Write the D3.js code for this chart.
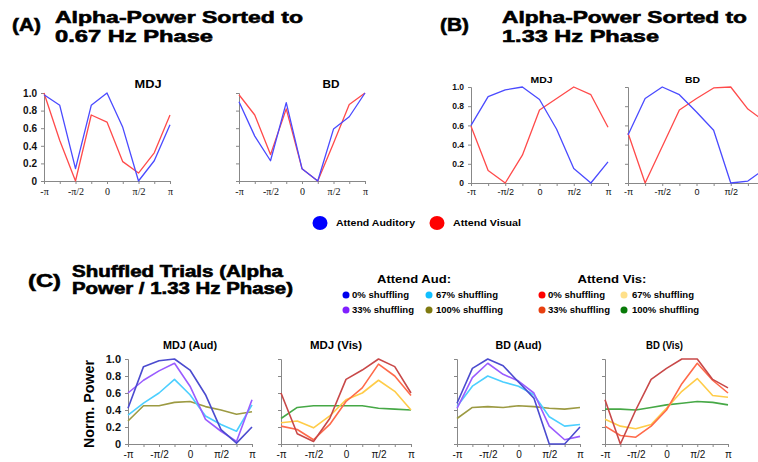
<!DOCTYPE html>
<html>
<head>
<meta charset="utf-8">
<script src="https://cdn.jsdelivr.net/npm/d3@7"></script>
<style>
  body { margin: 0; background: #fff; }
  svg { display: block; font-family: "Liberation Sans", Arial, sans-serif; }
  .axis path, .axis line { stroke: #888; }
  .axis text { fill: #111; }
</style>
</head>
<body>
<svg id="chart" width="758" height="462"></svg>
<script>
// phase bins, in multiples of pi
const phaseSteps = [-1, -0.75, -0.5, -0.25, 0, 0.25, 0.5, 0.75, 1];
const phaseTickLabels = ["-π", "", "-π/2", "", "0", "", "π/2", "", "π"];
const powerTicks = [0, 0.2, 0.4, 0.6, 0.8, 1.0];
const powerTickLabels = ["0", "0.2", "0.4", "0.6", "0.8", "1.0"];

// (A) sorted to 0.67 Hz phase
const aMdjAud = [0.98, 0.86, 0.14, 0.86, 1.0, 0.61, 0.0, 0.23, 0.64];
const aMdjVis = [1.0, 0.46, 0.0, 0.75, 0.67, 0.22, 0.09, 0.32, 0.75];
const aBdAud = [0.90, 0.51, 0.23, 0.89, 0.14, 0.0, 0.59, 0.73, 1.0];
const aBdVis = [0.98, 0.75, 0.30, 0.82, 0.14, 0.0, 0.43, 0.87, 1.0];

// (B) sorted to 1.33 Hz phase
const bMdjAud = [0.60, 0.90, 0.97, 1.0, 0.87, 0.56, 0.15, 0.0, 0.22];
const bMdjVis = [0.59, 0.13, 0.0, 0.29, 0.76, 0.88, 1.0, 0.92, 0.58];
const bBdAud = [0.50, 0.88, 1.0, 0.92, 0.74, 0.55, 0.0, 0.02, 0.15];
const bBdVis = [0.52, 0.0, 0.38, 0.76, 0.88, 0.99, 1.0, 0.77, 0.64];

// (C) shuffled trials: 0%, 33%, 67%, 100% shuffling
const shuffleLevels = ["0%", "33%", "67%", "100%"];
const cMdjAud = [
  [0.42, 0.91, 0.98, 1.0, 0.87, 0.58, 0.17, 0.01, 0.20],
  [0.60, 0.75, 0.86, 0.95, 0.68, 0.29, 0.15, 0.03, 0.52],
  [0.34, 0.48, 0.60, 0.76, 0.58, 0.33, 0.23, 0.15, 0.46],
  [0.27, 0.45, 0.45, 0.49, 0.50, 0.44, 0.40, 0.35, 0.38]
];
const cMdjVis = [
  [0.60, 0.12, 0.03, 0.30, 0.76, 0.87, 1.0, 0.91, 0.60],
  [0.21, 0.17, 0.05, 0.23, 0.50, 0.66, 0.94, 0.80, 0.57],
  [0.25, 0.27, 0.19, 0.33, 0.52, 0.60, 0.75, 0.62, 0.40],
  [0.30, 0.43, 0.45, 0.45, 0.45, 0.45, 0.42, 0.41, 0.40]
];
const cBdAud = [
  [0.48, 0.89, 1.0, 0.92, 0.73, 0.54, 0.0, 0.0, 0.20],
  [0.42, 0.78, 0.95, 0.82, 0.74, 0.60, 0.21, 0.05, 0.09],
  [0.44, 0.68, 0.80, 0.73, 0.68, 0.58, 0.32, 0.21, 0.23],
  [0.30, 0.43, 0.44, 0.43, 0.45, 0.44, 0.42, 0.41, 0.43]
];
const cBdVis = [
  [0.52, 0.0, 0.40, 0.76, 0.89, 1.0, 1.0, 0.76, 0.66],
  [0.21, 0.10, 0.08, 0.21, 0.40, 0.71, 0.95, 0.75, 0.60],
  [0.29, 0.21, 0.18, 0.23, 0.42, 0.62, 0.77, 0.57, 0.55],
  [0.41, 0.41, 0.40, 0.43, 0.46, 0.48, 0.50, 0.49, 0.46]
];

const audLine = "#4a4aff", visLine = "#ff4a4a";
const audShuffleLine = ["#4b4bcf", "#9a5cff", "#4ccfff", "#9c9a42"];
const visShuffleLine = ["#c84848", "#ff6a4a", "#ffcc48", "#46a846"];
const audShuffleDot = ["#0000ee", "#8020ff", "#10bfff", "#7f7a10"];
const visShuffleDot = ["#ff0000", "#e84010", "#ffe08a", "#087a08"];

const W = 758;
const svg = d3.select("#chart");

function text(x, y, str, size, opts) {
  opts = opts || {};
  const t = svg.append("text")
    .attr("x", x).attr("y", y)
    .attr("font-size", size)
    .attr("font-weight", opts.weight || "bold")
    .attr("text-anchor", opts.anchor || "start")
    .attr("fill", "#000")
    .text(str);
  if (opts.len) t.attr("textLength", opts.len).attr("lengthAdjust", "spacingAndGlyphs");
  if (opts.heavy) t.attr("stroke", "#000").attr("stroke-width", opts.heavy);
  return t;
}

function panel(box, series, colors, opt) {
  const x = d3.scaleLinear().domain([-Math.PI, Math.PI]).range([box.x0, box.x1]);
  const y = d3.scaleLinear().domain([0, 1]).range([box.y1, box.y0]);
  const g = svg.append("g");

  const yAxis = d3.axisLeft(y).tickValues(powerTicks).tickSize(3).tickPadding(4)
    .tickFormat((d, i) => opt.yLabels ? powerTickLabels[i] : "");
  g.append("g").attr("class", "axis").attr("transform", `translate(${box.x0},0)`).call(yAxis)
    .call(a => a.selectAll("text").attr("font-size", opt.ySize).attr("font-weight", "bold"));

  // labels past the right edge of the picture are dropped, as in the source figure
  const xAxis = d3.axisBottom(x).tickValues(phaseSteps.map(p => p * Math.PI)).tickSize(3).tickPadding(opt.xPad)
    .tickFormat((d, i) => x(d) > W - 4 ? "" : phaseTickLabels[i]);
  g.append("g").attr("class", "axis").attr("transform", `translate(0,${box.y1})`).call(xAxis)
    .call(a => a.selectAll("text").attr("font-size", opt.xSize)
      .attr("font-family", opt.xFamily || null));

  const line = d3.line().x((d, i) => x(phaseSteps[i] * Math.PI)).y(d => y(d));
  series.forEach((s, k) => {
    g.append("path").datum(s).attr("d", line)
      .attr("fill", "none").attr("stroke", colors[k]).attr("stroke-width", opt.lw)
      .attr("stroke-linejoin", "round");
  });

  text((box.x0 + box.x1) / 2 + (opt.titleDx || 0), opt.titleY, opt.title, opt.titleSize,
    { anchor: "middle", len: opt.titleLen });
}

// ---- headers ----
const hv = 0.6;
text(12, 31, "(A)", 19, { len: 29, heavy: hv });
text(55, 23, "Alpha-Power Sorted to", 17, { len: 248, heavy: hv });
text(55, 42, "0.67 Hz Phase", 17, { len: 158, heavy: hv });
text(440, 31, "(B)", 19, { len: 29, heavy: hv });
text(502, 23, "Alpha-Power Sorted to", 17, { len: 245, heavy: hv });
text(502, 42, "1.33 Hz Phase", 17, { len: 157, heavy: hv });
text(28, 287, "(C)", 19, { len: 33, heavy: hv });
text(72, 277, "Shuffled Trials (Alpha", 16, { len: 211, heavy: hv });
text(72, 294, "Power / 1.33 Hz Phase)", 16, { len: 221, heavy: hv });

// ---- (A) ----
const optA = { yLabels: true, ySize: 10, xSize: 10, xPad: 4, xFamily: "Liberation Serif", lw: 1.3, titleY: 88, titleSize: 11 };
panel({ x0: 44, x1: 170, y0: 93, y1: 181 }, [aMdjVis, aMdjAud], [visLine, audLine],
  Object.assign({}, optA, { title: "MDJ", titleDx: 41, titleLen: 27 }));
panel({ x0: 239, x1: 365, y0: 93, y1: 181 }, [aBdVis, aBdAud], [visLine, audLine],
  Object.assign({}, optA, { yLabels: false, title: "BD", titleDx: 29, titleLen: 17 }));

// ---- (B) ----
const optB = { yLabels: true, ySize: 8.5, xSize: 9, xPad: 3, lw: 1.3, titleY: 83, titleSize: 9 };
panel({ x0: 471, x1: 608, y0: 87, y1: 183 }, [bMdjVis, bMdjAud], [visLine, audLine],
  Object.assign({}, optB, { title: "MDJ", titleDx: 2, titleLen: 22 }));
panel({ x0: 628, x1: 765, y0: 87, y1: 183 }, [bBdVis, bBdAud], [visLine, audLine],
  Object.assign({}, optB, { yLabels: false, title: "BD", titleDx: -4, titleLen: 15 }));

// ---- middle legend ----
svg.append("ellipse").attr("cx", 320).attr("cy", 223).attr("rx", 7.5).attr("ry", 7).attr("fill", "#0000ff");
text(336, 226, "Attend Auditory", 9.5, { len: 79 });
svg.append("ellipse").attr("cx", 437).attr("cy", 223).attr("rx", 7.5).attr("ry", 7).attr("fill", "#ff0000");
text(453, 226, "Attend Visual", 9.5, { len: 68 });

// ---- (C) legend ----
text(414, 283, "Attend Aud:", 10.5, { anchor: "middle", len: 74 });
text(612, 283, "Attend Vis:", 10.5, { anchor: "middle", len: 69 });
const legendSlots = [[0, 0], [0, 1], [1, 0], [1, 1]]; // [column, row] per shuffle level
const legendLens = [57, 62, 62, 67];
legendSlots.forEach(([c, r], k) => {
  const yy = 295 + r * 15;
  svg.append("circle").attr("cx", 346 + c * 83).attr("cy", yy).attr("r", 3.5).attr("fill", audShuffleDot[k]);
  text(352 + c * 84, yy + 3, shuffleLevels[k] + " shuffling", 8.5, { len: legendLens[k] });
  svg.append("circle").attr("cx", 542 + c * 82).attr("cy", yy).attr("r", 3.5).attr("fill", visShuffleDot[k]);
  text(548 + c * 84, yy + 3, shuffleLevels[k] + " shuffling", 8.5, { len: legendLens[k] });
});

// ---- (C) panels ----
const optC = { yLabels: false, ySize: 11, xSize: 10, xPad: 4, lw: 1.6, titleY: 349, titleSize: 11 };
const rev = a => a.slice().reverse();
panel({ x0: 128, x1: 252, y0: 359, y1: 444 }, rev(cMdjAud), rev(audShuffleLine),
  Object.assign({}, optC, { yLabels: true, title: "MDJ (Aud)", titleLen: 54 }));
panel({ x0: 281, x1: 411, y0: 359, y1: 444 }, rev(cMdjVis), rev(visShuffleLine),
  Object.assign({}, optC, { title: "MDJ (Vis)", titleDx: -10, titleLen: 52 }));
panel({ x0: 457, x1: 580, y0: 359, y1: 444 }, rev(cBdAud), rev(audShuffleLine),
  Object.assign({}, optC, { title: "BD (Aud)", titleDx: 0, titleLen: 46 }));
panel({ x0: 605, x1: 728, y0: 359, y1: 444 }, rev(cBdVis), rev(visShuffleLine),
  Object.assign({}, optC, { title: "BD (Vis)", titleDx: -2, titleLen: 37 }));

svg.append("text")
  .attr("transform", "translate(94,404) rotate(-90)")
  .attr("text-anchor", "middle").attr("font-size", 14).attr("font-weight", "bold")
  .attr("textLength", 88).attr("lengthAdjust", "spacingAndGlyphs")
  .text("Norm. Power");
</script>
</body>
</html>
